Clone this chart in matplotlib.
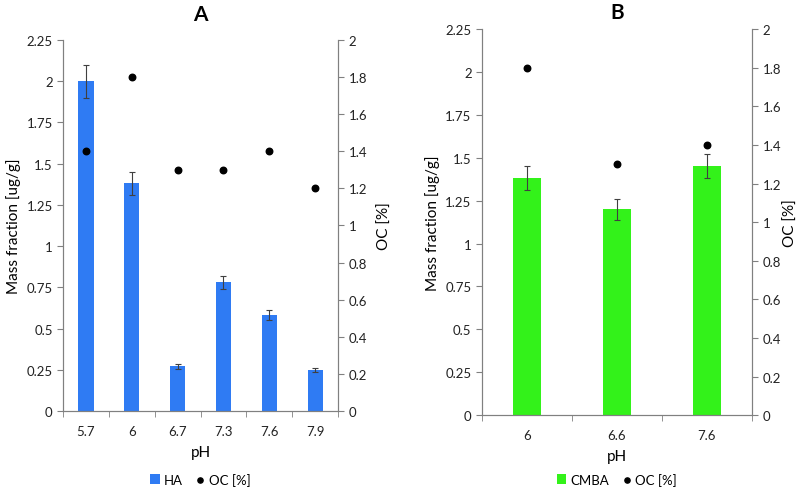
import numpy as np
import matplotlib
matplotlib.use("Agg")
import matplotlib.pyplot as plt

plt.rcParams['font.family'] = ['Lato', 'DejaVu Sans']

# panel A
ph_a = ["5.7", "6", "6.7", "7.3", "7.6", "7.9"]
ha = [2.0, 1.38, 0.27, 0.78, 0.58, 0.25]
ha_err = [0.10, 0.07, 0.015, 0.04, 0.03, 0.012]
oc_a = [1.4, 1.8, 1.3, 1.3, 1.4, 1.2]

# panel B
ph_b = ["6", "6.6", "7.6"]
cmba = [1.38, 1.20, 1.45]
cmba_err = [0.07, 0.06, 0.07]
oc_b = [1.8, 1.3, 1.4]

fig = plt.figure(figsize=(7.98, 4.89), dpi=100)
grey = "#808080"


def panel(rect, labels, vals, errs, oc, color, name, title, width, title_y, rpad):
    ax = fig.add_axes(rect)
    x = np.arange(len(labels))
    bars = ax.bar(x, vals, width=width, color=color, label=name, zorder=2)
    ax.errorbar(x, vals, yerr=errs, fmt="none", ecolor="#404040",
                elinewidth=0.8, capsize=2.5, capthick=0.8, zorder=3)
    ax.set_xlim(-0.5, len(labels) - 0.5)
    ax.set_ylim(0, 2.25)
    ax.set_yticks(np.arange(0, 2.26, 0.25))
    ax.set_yticklabels(["0", "0.25", "0.5", "0.75", "1", "1.25", "1.5", "1.75", "2", "2.25"])
    ax.set_xticks(x)
    ax.set_xticklabels(labels)
    ax.set_xticks(np.arange(-0.5, len(labels)), minor=True)
    ax.tick_params(axis="x", which="major", length=0, pad=10)
    ax.tick_params(axis="x", which="minor", length=4, color=grey)
    ax.tick_params(axis="y", length=4, color=grey)
    ax.tick_params(labelsize=9.5, labelcolor="#222222")
    ax.set_xlabel("pH", fontsize=11, labelpad=6)
    ax.set_ylabel("Mass fraction [ug/g]", fontsize=11)
    ax.spines["top"].set_visible(False)
    for s in ["left", "bottom", "right"]:
        ax.spines[s].set_color(grey)

    ax2 = ax.twinx()
    pts = ax2.scatter(x, oc, color="black", s=22, label="OC [%]", zorder=4)
    ax2.set_ylim(0, 2)
    ax2.set_yticks(np.arange(0, 2.01, 0.2))
    ax2.set_yticklabels(["0", "0.2", "0.4", "0.6", "0.8", "1", "1.2", "1.4", "1.6", "1.8", "2"])
    ax2.tick_params(axis="y", length=4, color=grey, labelsize=9.5, labelcolor="#222222")
    ax2.set_ylabel("OC [%]", fontsize=11, labelpad=rpad)
    ax2.spines["top"].set_visible(False)
    for s in ["left", "bottom", "right"]:
        ax2.spines[s].set_color(grey)

    cx = rect[0] + rect[2] / 2
    fig.text(cx, title_y, title, fontsize=15, fontweight="bold",
             ha="center", va="center")
    fig.legend([bars, pts], [name, "OC [%]"], loc="center",
               bbox_to_anchor=(cx, 0.018), ncol=2, frameon=False,
               fontsize=9.5, handlelength=0.7, handletextpad=0.3,
               columnspacing=1.0, borderpad=0.1, markerscale=0.8)
    return ax


panel([0.079, 0.1575, 0.3446, 0.7587], ph_a, ha, ha_err, oc_a,
      "#2F7BF3", "HA", "A", 0.33, 0.969, 8)
panel([0.604, 0.149, 0.3383, 0.7894], ph_b, cmba, cmba_err, oc_b,
      "#33F21A", "CMBA", "B", 0.31, 0.973, 2)

fig.savefig("out.png", dpi=100)
